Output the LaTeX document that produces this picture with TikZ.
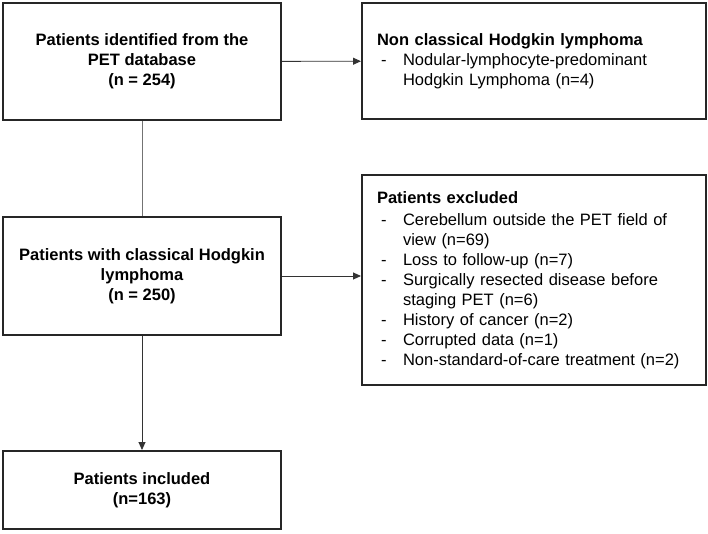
\documentclass[tikz,border=0pt]{standalone}
\usepackage{fontspec}
\setmainfont{Liberation Sans}
\usetikzlibrary{arrows.meta}

\newcommand{\itemdash}{\hspace*{4pt}\makebox[22pt][l]{-}}
\newcommand{\itemcont}{\hspace*{26pt}}

\tikzset{
  flowbox/.style={draw=black!85, line width=2pt, minimum width=278pt, inner sep=0pt, align=center, font=\fontsize{16.5}{20}\selectfont\bfseries},
  sidebox/.style={draw=black!85, line width=2pt, text width=314pt, inner xsep=15pt, inner ysep=0pt, align=left},
  link/.style={line width=0.9pt, draw=black!80}
}

\begin{document}
\begin{tikzpicture}[x=1pt, y=-1pt, >={Triangle[length=8pt,width=7pt]}, font=\fontsize{16.5}{20}\selectfont]

	\useasboundingbox (0,0) rectangle (708,533);
	% main column
	\node[flowbox, minimum height=117pt] (pid) at (142,61.5) {Patients identified from the\\PET database\\(n = 254)};
	\node[flowbox, minimum height=118pt] (chl) at (142,276) {Patients with classical Hodgkin\\lymphoma\\(n = 250)};
	\node[flowbox, minimum height=78pt] (inc) at (142,490) {Patients included\\(n=163)};
	% side boxes
	\node[sidebox, minimum height=116pt] (nchl) at (534,61) {\textbf{Non classical Hodgkin lymphoma}\\
		\itemdash Nodular-lymphocyte-predominant\\
		\itemcont Hodgkin Lymphoma (n=4)};
	\node[sidebox, minimum height=210pt] (exc) at (534,280) {\textbf{Patients excluded}\\[2pt]
		\itemdash Cerebellum outside the PET field of\\
		\itemcont view (n=69)\\
		\itemdash Loss to follow-up (n=7)\\
		\itemdash Surgically resected disease before\\
		\itemcont staging PET (n=6)\\
		\itemdash History of cancer (n=2)\\
		\itemdash Corrupted data (n=1)\\
		\itemdash Non-standard-of-care treatment (n=2)};

	\draw[link, draw=black!55] (pid) -- (chl);
	\draw[link, ->] (chl) -- (inc);
	\draw[link, ->] (pid) -- (nchl);
	\draw[link, ->] (chl.east) -- (chl.east -| exc.west);
\end{tikzpicture}
\end{document}
